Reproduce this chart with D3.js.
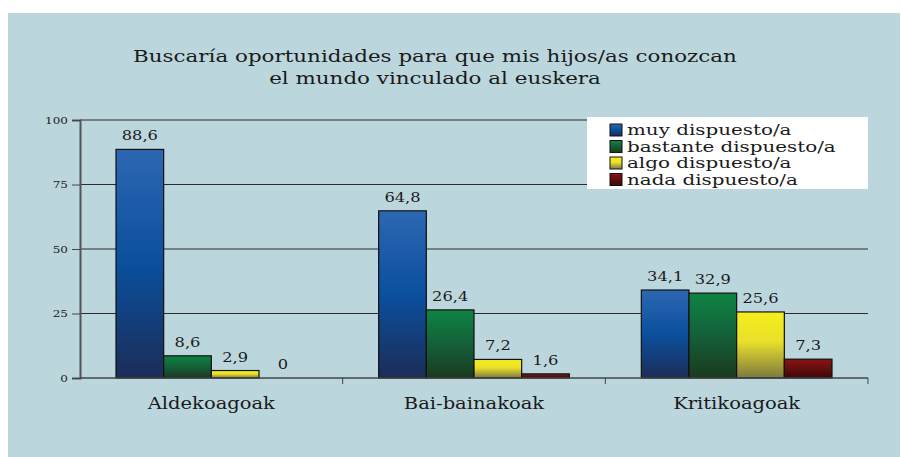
<!DOCTYPE html>
<html>
<head>
<meta charset="utf-8">
<script src="https://cdn.jsdelivr.net/npm/d3@7"></script>
<style>
  html, body { margin: 0; padding: 0; background: #ffffff; }
  svg { display: block; }
  text { font-family: "DejaVu Serif", serif; fill: #1a1a1a; }
</style>
</head>
<body>
<svg id="chart" width="901" height="457"></svg>
<script>
// Chart data
const categories = ["Aldekoagoak", "Bai-bainakoak", "Kritikoagoak"];
const seriesNames = ["muy dispuesto/a", "bastante dispuesto/a", "algo dispuesto/a", "nada dispuesto/a"];
const muyValues = [88.6, 64.8, 34.1];
const bastanteValues = [8.6, 26.4, 32.9];
const algoValues = [2.9, 7.2, 25.6];
const nadaValues = [0, 1.6, 7.3];
const yTicks = [0, 25, 50, 75, 100];
const titleLines = ["Buscaría oportunidades para que mis hijos/as conozcan", "el mundo vinculado al euskera"];

const seriesValues = [muyValues, bastanteValues, algoValues, nadaValues];

// Gradient stops per series (top → bottom)
const gradients = [
  [["0%", "#2d67b3"], ["50%", "#0b4f9d"], ["100%", "#1b2d58"]],
  [["0%", "#0e8443"], ["50%", "#14603a"], ["100%", "#1a3a1e"]],
  [["0%", "#f6ee1c"], ["45%", "#e9e02a"], ["100%", "#7d7840"]],
  [["0%", "#8c1414"], ["100%", "#3c0808"]]
];

// The typeface used here is a wide serif; glyphs are widened horizontally.
const WIDE = 1.22;
function place(sel, x, yy, sx) {
  sel.attr("transform", `translate(${x},${yy}) scale(${sx},1)`);
}

const svg = d3.select("#chart");

// Panel background
svg.append("rect")
  .attr("x", 8).attr("y", 13)
  .attr("width", 892).attr("height", 444)
  .attr("fill", "#bbd7dd");

const defs = svg.append("defs");
gradients.forEach((stops, i) => {
  const g = defs.append("linearGradient")
    .attr("id", "grad" + i)
    .attr("x1", 0).attr("y1", 0).attr("x2", 0).attr("y2", 1);
  stops.forEach(s => g.append("stop").attr("offset", s[0]).attr("stop-color", s[1]));
});

const plot = { left: 80, right: 868, top: 120, bottom: 378 };

const x0 = d3.scaleBand()
  .domain(categories)
  .range([plot.left, plot.right])
  .paddingInner(0).paddingOuter(0);

const groupPad = 36;
const x1 = d3.scaleBand()
  .domain(d3.range(seriesNames.length))
  .range([groupPad, x0.bandwidth() - groupPad])
  .padding(0);

const y = d3.scaleLinear().domain([0, 100]).range([plot.bottom, plot.top]);

// Title
titleLines.forEach((line, i) => {
  svg.append("text")
    .attr("text-anchor", "middle")
    .attr("font-size", 17)
    .call(place, 435, 62 + i * 21.5, 1.26)
    .text(line);
});

// Horizontal gridlines
svg.append("g")
  .selectAll("line")
  .data(yTicks.filter(t => t > 0))
  .join("line")
  .attr("x1", plot.left).attr("x2", plot.right)
  .attr("y1", d => y(d)).attr("y2", d => y(d))
  .attr("stroke", "#2b2b2b")
  .attr("stroke-width", 1);

// Y axis
const yAxis = svg.append("g")
  .attr("transform", `translate(${plot.left},0)`)
  .call(d3.axisLeft(y).tickValues(yTicks).tickSize(8).tickFormat(""));
yAxis.select(".domain").attr("stroke", "#555").attr("stroke-width", 2);
yAxis.selectAll(".tick line").attr("stroke", "#444");
svg.append("g")
  .selectAll("text")
  .data(yTicks)
  .join("text")
  .attr("text-anchor", "end")
  .attr("font-size", 10)
  .attr("fill", "#222")
  .each(function(d) { place(d3.select(this), 68, y(d) + 3.5, 1.2); })
  .text(d => d);

// Bars
const groups = svg.append("g")
  .selectAll("g")
  .data(categories)
  .join("g")
  .attr("transform", d => `translate(${x0(d)},0)`);

groups.each(function(cat, ci) {
  const g = d3.select(this);
  const vals = seriesValues.map((s, si) => ({ si, v: s[ci] }));
  g.selectAll("rect")
    .data(vals.filter(d => d.v > 0))
    .join("rect")
    .attr("x", d => x1(d.si))
    .attr("y", d => y(d.v))
    .attr("width", x1.bandwidth())
    .attr("height", d => y(0) - y(d.v))
    .attr("fill", d => `url(#grad${d.si})`)
    .attr("stroke", "#111")
    .attr("stroke-width", 1.2);
  g.selectAll("text.val")
    .data(vals)
    .join("text")
    .attr("class", "val")
    .attr("text-anchor", "middle")
    .attr("font-size", 13)
    .each(function(d) {
      place(d3.select(this), x1(d.si) + x1.bandwidth() / 2, y(d.v) - 9, 1.25);
    })
    .text(d => String(d.v).replace(".", ","));
});

// X axis
const xAxis = svg.append("g")
  .attr("transform", `translate(0,${plot.bottom})`);
xAxis.append("line")
  .attr("x1", plot.left).attr("x2", plot.right)
  .attr("stroke", "#444").attr("stroke-width", 1.5);
xAxis.selectAll("line.tick")
  .data(categories)
  .join("line")
  .attr("class", "tick")
  .attr("x1", d => x0(d) + x0.bandwidth()).attr("x2", d => x0(d) + x0.bandwidth())
  .attr("y1", 0).attr("y2", 6)
  .attr("stroke", "#444");
xAxis.selectAll("text")
  .data(categories)
  .join("text")
  .attr("text-anchor", "middle")
  .attr("font-size", 16)
  .each(function(d) { place(d3.select(this), x0(d) + x0.bandwidth() / 2, 31, WIDE); })
  .text(d => d);

// Legend
const legend = svg.append("g");
legend.append("rect")
  .attr("x", 587).attr("y", 117)
  .attr("width", 281).attr("height", 72)
  .attr("fill", "#ffffff");
const items = legend.selectAll("g.item")
  .data(seriesNames)
  .join("g")
  .attr("class", "item")
  .attr("transform", (d, i) => `translate(610,${130 + i * 16.5})`);
items.append("rect")
  .attr("x", 0).attr("y", -6)
  .attr("width", 12).attr("height", 12)
  .attr("fill", (d, i) => `url(#grad${i})`)
  .attr("stroke", "#111").attr("stroke-width", 1);
items.append("text")
  .attr("font-size", 14)
  .call(place, 17, 5, 1.42)
  .text(d => d);
</script>
</body>
</html>
